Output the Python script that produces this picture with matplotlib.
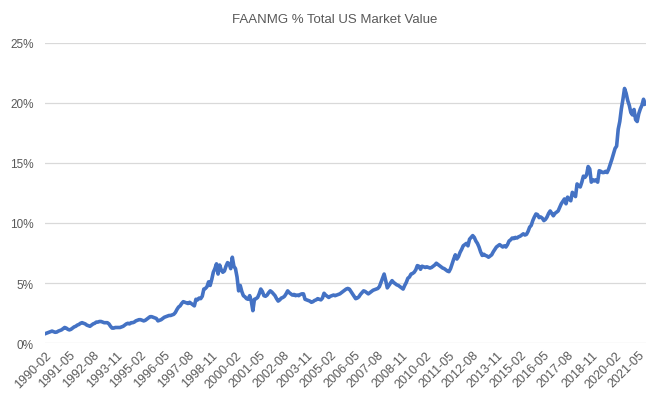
import numpy as np
import pandas as pd
import matplotlib
matplotlib.use("Agg")
import matplotlib.pyplot as plt
from matplotlib.ticker import FuncFormatter

# monthly share of total US market value (%)
# 1990 starts in February, 2021 ends in September
y1990 = [0.80, 0.85, 0.90, 0.95, 1.00, 0.95, 0.90, 0.92, 1.00, 1.05, 1.10]
y1991 = [1.20, 1.30, 1.25, 1.15, 1.10, 1.15, 1.25, 1.35, 1.40, 1.50, 1.55, 1.65]
y1992 = [1.70, 1.65, 1.60, 1.50, 1.45, 1.40, 1.50, 1.60, 1.65, 1.75, 1.75, 1.80]
y1993 = [1.80, 1.75, 1.70, 1.70, 1.70, 1.60, 1.40, 1.25, 1.25, 1.30, 1.30, 1.30]
y1994 = [1.30, 1.35, 1.40, 1.50, 1.60, 1.65, 1.60, 1.70, 1.70, 1.75, 1.85, 1.90]
y1995 = [1.95, 1.95, 1.90, 1.85, 1.90, 2.00, 2.10, 2.20, 2.20, 2.15, 2.10, 2.05]
y1996 = [1.85, 1.90, 1.95, 2.05, 2.15, 2.20, 2.25, 2.30, 2.30, 2.35, 2.40, 2.55]
y1997 = [2.80, 3.00, 3.10, 3.30, 3.45, 3.40, 3.35, 3.30, 3.40, 3.30, 3.20, 3.10]
y1998 = [3.65, 3.60, 3.75, 3.70, 3.90, 4.50, 4.55, 4.70, 5.10, 4.80, 5.30, 5.90]
y1999 = [6.20, 6.60, 5.75, 6.50, 6.10, 5.90, 6.00, 6.40, 6.70, 6.60, 6.20, 7.15]
y2000 = [6.40, 6.20, 5.50, 4.35, 4.80, 4.30, 3.95, 3.85, 3.70, 3.65, 3.95, 3.50]
y2001 = [2.70, 3.65, 3.70, 3.80, 4.10, 4.50, 4.30, 3.95, 3.90, 4.00, 4.20, 4.35]
y2002 = [4.25, 4.10, 3.95, 3.70, 3.50, 3.60, 3.75, 3.80, 3.90, 4.10, 4.35, 4.20]
y2003 = [4.10, 4.00, 4.05, 3.95, 4.00, 3.95, 4.05, 4.10, 4.10, 3.65, 3.60, 3.55]
y2004 = [3.50, 3.40, 3.45, 3.55, 3.60, 3.70, 3.65, 3.60, 3.75, 4.15, 4.00, 3.90]
y2005 = [3.80, 3.90, 3.95, 4.00, 3.95, 4.00, 4.05, 4.10, 4.20, 4.30, 4.40, 4.50]
y2006 = [4.55, 4.50, 4.30, 4.10, 3.90, 3.70, 3.75, 3.85, 4.05, 4.20, 4.35, 4.30]
y2007 = [4.20, 4.10, 4.20, 4.30, 4.40, 4.45, 4.50, 4.55, 4.70, 5.05, 5.40, 5.75]
y2008 = [5.20, 4.60, 4.80, 5.00, 5.20, 5.05, 4.95, 4.85, 4.80, 4.70, 4.60, 4.50]
y2009 = [4.80, 5.05, 5.40, 5.50, 5.75, 5.80, 5.90, 6.10, 6.45, 6.40, 6.15, 6.40]
y2010 = [6.35, 6.30, 6.35, 6.30, 6.25, 6.30, 6.40, 6.50, 6.65, 6.55, 6.45, 6.35]
y2011 = [6.25, 6.20, 6.10, 6.00, 5.95, 6.20, 6.60, 7.00, 7.35, 7.00, 7.20, 7.55]
y2012 = [7.80, 8.10, 8.20, 8.30, 8.10, 8.65, 8.80, 8.95, 8.80, 8.50, 8.30, 8.00]
y2013 = [7.60, 7.30, 7.40, 7.30, 7.25, 7.15, 7.25, 7.35, 7.60, 7.80, 8.00, 8.10]
y2014 = [8.20, 8.10, 8.00, 8.10, 8.00, 8.20, 8.50, 8.60, 8.75, 8.70, 8.80, 8.75]
y2015 = [8.85, 8.90, 9.00, 9.10, 9.00, 9.05, 9.30, 9.65, 9.80, 10.20, 10.50, 10.75]
y2016 = [10.70, 10.45, 10.50, 10.40, 10.20, 10.30, 10.50, 10.80, 11.00, 10.80, 10.60, 10.80]
y2017 = [10.90, 11.00, 11.30, 11.60, 11.80, 12.00, 11.60, 12.15, 12.00, 11.85, 12.55, 12.40]
y2018 = [12.20, 13.25, 13.10, 13.00, 13.40, 13.90, 13.80, 14.00, 14.70, 14.50, 13.40, 13.60]
y2019 = [13.50, 13.60, 13.40, 14.35, 14.30, 14.20, 14.20, 14.30, 14.20, 14.50, 14.90, 15.30]
y2020 = [15.75, 16.20, 16.40, 17.80, 18.45, 19.50, 20.30, 21.20, 20.80, 20.20, 19.80, 19.20]
y2021 = [19.00, 19.45, 18.60, 18.45, 19.10, 19.50, 19.80, 20.30, 19.90]

share = (y1990 + y1991 + y1992 + y1993 + y1994 + y1995 + y1996 + y1997
         + y1998 + y1999 + y2000 + y2001 + y2002 + y2003 + y2004 + y2005
         + y2006 + y2007 + y2008 + y2009 + y2010 + y2011 + y2012 + y2013
         + y2014 + y2015 + y2016 + y2017 + y2018 + y2019 + y2020 + y2021)

months = pd.date_range("1990-02-01", periods=len(share), freq="MS").strftime("%Y-%m")

plt.rcParams['font.family'] = ['Liberation Sans', 'DejaVu Sans']
grey = '#595959'

fig = plt.figure(figsize=(6.7, 4.02), dpi=100)
ax = fig.add_axes([0.067, 0.144, 0.897, 0.747])

x = np.arange(len(share))
ax.plot(x, share, color='#4472C4', linewidth=2.6, solid_joinstyle='round')

ax.set_ylim(0, 25)
ax.set_yticks(np.arange(0, 26, 5))
ax.yaxis.set_major_formatter(FuncFormatter(lambda v, p: f"{v:.0f}%"))
ax.set_xlim(-0.5, len(share) - 0.5)
step = 15
ax.set_xticks(x[::step])
ax.set_xticklabels(months[::step], rotation=45, ha='right', rotation_mode='anchor')

ax.grid(axis='y', color='#d9d9d9', linewidth=0.9)
ax.set_axisbelow(True)
for s in ax.spines.values():
    s.set_visible(False)
ax.tick_params(axis='both', length=0, colors=grey, labelsize=8.5)
ax.tick_params(axis='x', pad=4, labelsize=9)
ax.tick_params(axis='y', pad=8)

fig.text(0.5, 0.95, "FAANMG % Total US Market Value", ha='center', va='center',
         fontsize=9.5, color=grey)

fig.savefig("out.png", dpi=100)
